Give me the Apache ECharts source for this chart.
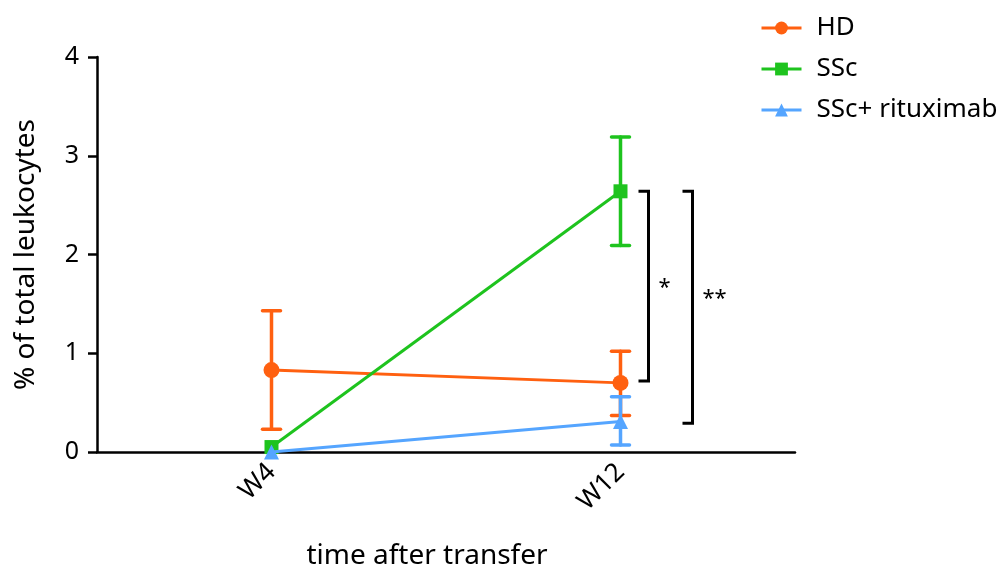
<!DOCTYPE html>
<html><head><meta charset="utf-8">
<script src="https://cdn.jsdelivr.net/npm/echarts@6/dist/echarts.min.js"></script>
<style>html,body{margin:0;padding:0;background:#fff;overflow:hidden}#c{width:999px;height:571px}</style>
</head><body><div id="c"></div>
<script>
// ---- data ----
const categories = ['W4', 'W12'];
const seriesNames = ['HD', 'SSc', 'SSc+ rituximab'];
const hdMean = [0.83, 0.70];
const hdLow = [0.23, 0.37];
const hdHigh = [1.43, 1.02];
const sscMean = [0.05, 2.64];
const sscLow = [0.05, 2.09];
const sscHigh = [0.05, 3.19];
const ritMean = [0.0, 0.31];
const ritLow = [0.0, 0.07];
const ritHigh = [0.0, 0.56];
const yTicks = [0, 1, 2, 3, 4];
// significance brackets (at W12)
const bracketCategory = [1, 1];
const bracketTop = [2.64, 2.64];
const bracketBottom = [0.72, 0.29];
const bracketLabels = ['*', '**'];

// ---- style ----
const colors = ['#FF6010', '#1EC31E', '#55A5FF'];
const bracketOffsets = [28, 72];
const bracketLabelDy = [2, -9];
const FONT = 'Noto Sans';

const chart = echarts.init(document.getElementById('c'));

function errSeries(name, color, low, high, z) {
  return {
    type: 'custom', name: name + ' error', z: z,
    data: categories.map((c, i) => [i, low[i], high[i]]),
    encode: { x: 0, y: [1, 2] },
    renderItem: function (params, api) {
      const lo = api.coord([api.value(0), api.value(1)]);
      const hi = api.coord([api.value(0), api.value(2)]);
      if (Math.abs(lo[1] - hi[1]) < 1) return null;
      const w = 9;
      const st = { stroke: color, lineWidth: 3.5, lineCap: 'round' };
      return {
        type: 'group', children: [
          { type: 'line', shape: { x1: lo[0], y1: lo[1], x2: hi[0], y2: hi[1] }, style: st },
          { type: 'line', shape: { x1: lo[0] - w, y1: lo[1], x2: lo[0] + w, y2: lo[1] }, style: st },
          { type: 'line', shape: { x1: hi[0] - w, y1: hi[1], x2: hi[0] + w, y2: hi[1] }, style: st }
        ]
      };
    },
    silent: true, tooltip: { show: false }
  };
}

const option = {
  animation: false,
  textStyle: { fontFamily: FONT, color: '#000' },
  grid: { left: 97, right: 204, top: 57, bottom: 119, containLabel: false, outerBoundsMode: 'none' },
  legend: {
    orient: 'vertical', left: 755, top: 10, itemGap: 15,
    itemWidth: 40, itemHeight: 16,
    data: seriesNames,
    lineStyle: { width: 3 },
    textStyle: { fontFamily: FONT, fontSize: 26, color: '#000', padding: [0, 0, 0, 10] }
  },
  xAxis: {
    type: 'category', data: categories, boundaryGap: true,
    name: 'time after transfer', nameLocation: 'middle', nameGap: 90,
    nameTextStyle: { fontFamily: FONT, fontSize: 28, color: '#000', padding: [0, 38, 0, 0] },
    axisLine: { lineStyle: { color: '#000', width: 2.5 } },
    axisTick: { alignWithLabel: true, length: 8, lineStyle: { color: '#000', width: 2.5 } },
    axisLabel: { rotate: 45, fontSize: 26, color: '#000', margin: 16, fontFamily: FONT }
  },
  yAxis: {
    type: 'value', min: yTicks[0], max: yTicks[yTicks.length - 1], interval: 1,
    name: '% of total leukocytes', nameLocation: 'middle', nameGap: 57,
    nameTextStyle: { fontFamily: FONT, fontSize: 28, color: '#000' },
    splitLine: { show: false },
    axisLine: { show: true, lineStyle: { color: '#000', width: 2.5 } },
    axisTick: { show: true, length: 9, lineStyle: { color: '#000', width: 2.5 } },
    axisLabel: { fontSize: 25, color: '#000', margin: 18, fontFamily: FONT }
  },
  series: [
    errSeries('HD', colors[0], hdLow, hdHigh, 2),
    errSeries('SSc', colors[1], sscLow, sscHigh, 2),
    errSeries('SSc+ rituximab', colors[2], ritLow, ritHigh, 3),
    { type: 'line', name: seriesNames[0], data: hdMean, color: colors[0], symbol: 'circle', symbolSize: 16,
      lineStyle: { width: 3 }, z: 4 },
    { type: 'line', name: seriesNames[1], data: sscMean, color: colors[1], symbol: 'rect', symbolSize: 14,
      lineStyle: { width: 3 }, z: 4 },
    { type: 'line', name: seriesNames[2], data: ritMean, color: colors[2], symbol: 'triangle', symbolSize: 15,
      lineStyle: { width: 3 }, z: 5 },
    {
      type: 'custom', name: 'brackets', z: 6, silent: true,
      data: bracketLabels.map((l, i) => [bracketCategory[i], bracketTop[i], bracketBottom[i], l, i]),
      encode: { x: 0, y: [1, 2] },
      renderItem: function (params, api) {
        const idx = api.value(4);
        const off = bracketOffsets[idx];
        const top = api.coord([api.value(0), api.value(1)]);
        const bot = api.coord([api.value(0), api.value(2)]);
        const x = top[0] + off;
        const st = { stroke: '#000', lineWidth: 3, fill: null };
        return {
          type: 'group', children: [
            { type: 'polyline', shape: { points: [[x - 10, top[1]], [x, top[1]], [x, bot[1]], [x - 10, bot[1]]] }, style: st },
            { type: 'text', style: { text: bracketLabels[idx], x: x + 10, y: (top[1] + bot[1]) / 2 + bracketLabelDy[idx],
              textAlign: 'left', textVerticalAlign: 'middle', fontSize: 22, fontFamily: FONT, fill: '#000' } }
          ]
        };
      }
    }
  ]
};
chart.setOption(option);
</script></body></html>
